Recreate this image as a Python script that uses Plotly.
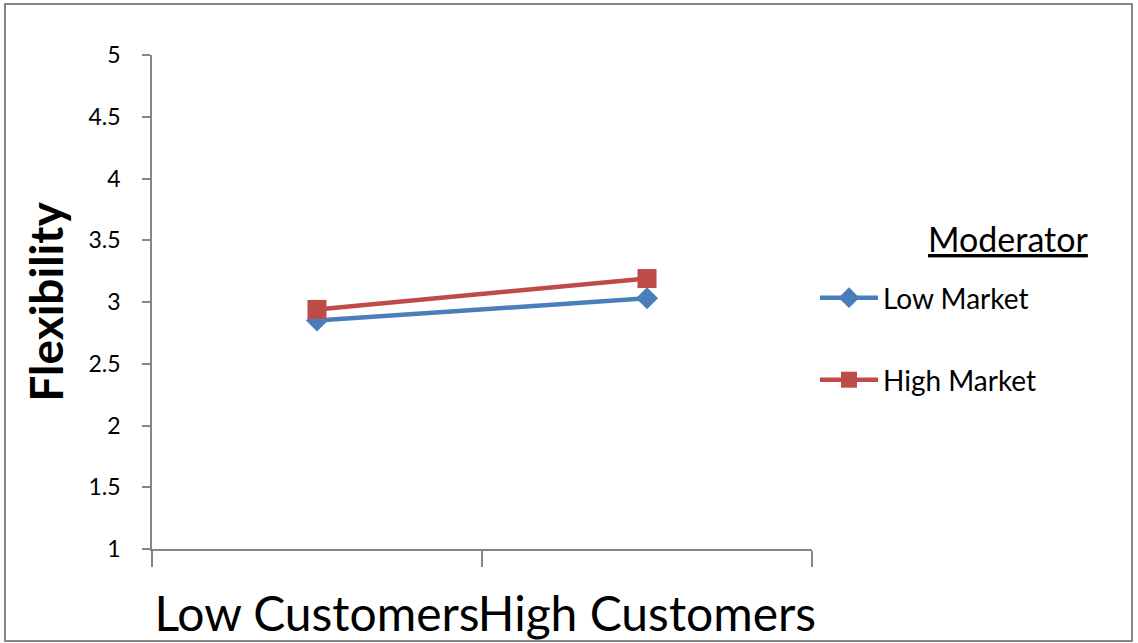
import plotly.graph_objects as go

categories = ["Low Customers", "High Customers"]
low_market = [2.85, 3.03]
high_market = [2.94, 3.19]
series_names = ["Low Market", "High Market"]
y_ticks = [1, 1.5, 2, 2.5, 3, 3.5, 4, 4.5, 5]

FONT = "Lato, sans-serif"
BLUE = "#4A7EBB"
RED = "#BE4B48"
GRAY = "#868686"

fig = go.Figure()
fig.add_trace(go.Scatter(
    x=categories, y=low_market, name=series_names[0], mode="lines+markers",
    line=dict(color=BLUE, width=4.5),
    marker=dict(symbol="diamond", size=17, color=BLUE),
    legend="legend",
))
fig.add_trace(go.Scatter(
    x=categories, y=high_market, name=series_names[1], mode="lines+markers",
    line=dict(color=RED, width=4.5),
    marker=dict(symbol="square", size=19, color=RED),
    legend="legend2",
))

W, H = 1138, 643
L, R, T, B = 152, 326, 55, 94
pw, ph = W - L - R, H - T - B

def px_x(x):
    return (x - L) / pw

def px_y(y):
    return (H - B - y) / ph

legend_common = dict(
    font=dict(family=FONT, size=28, color="#000000"),
    itemwidth=58, bgcolor="rgba(0,0,0,0)",
    xanchor="left", yanchor="middle", tracegroupgap=0,
)

fig.update_layout(
    width=W, height=H,
    margin=dict(l=L, r=R, t=T, b=B, autoexpand=False),
    paper_bgcolor="white", plot_bgcolor="white",
    font=dict(family=FONT, color="#000000"),
    showlegend=True,
    legend=dict(x=px_x(815), y=px_y(298), **legend_common),
    legend2=dict(x=px_x(815), y=px_y(380), **legend_common),
    xaxis=dict(
        type="category", range=[-0.5, 1.5],
        showline=True, linecolor=GRAY, linewidth=1.5,
        ticks="outside", ticklen=16, tickcolor=GRAY, tickwidth=1.5,
        tickson="boundaries", tickangle=0, automargin=False,
        tickfont=dict(family=FONT, size=48, color="#000000"),
        ticklabelstandoff=23,
        showgrid=False, zeroline=False,
    ),
    yaxis=dict(
        range=[1, 5], tickvals=y_ticks, automargin=False,
        showline=True, linecolor=GRAY, linewidth=1.5,
        ticks="outside", ticklen=8, tickcolor=GRAY, tickwidth=1.5,
        tickfont=dict(family=FONT, size=23, color="#000000"),
        ticklabelstandoff=17,
        showgrid=False, zeroline=False,
        title=dict(text="<b>Flexibility</b>", font=dict(family=FONT, size=46, color="#000000"), standoff=10),
    ),
    annotations=[dict(
        text="<u>Moderator</u>", xref="paper", yref="paper",
        x=px_x(1090), y=px_y(238), xanchor="right", yanchor="middle",
        showarrow=False, font=dict(family=FONT, size=34, color="#000000"),
    )],
    shapes=[dict(
        type="rect", xref="paper", yref="paper",
        x0=px_x(5), x1=px_x(1132), y0=px_y(641), y1=px_y(4),
        line=dict(color=GRAY, width=2), fillcolor="rgba(0,0,0,0)", layer="below",
    )],
)

fig.write_html("out.html")
